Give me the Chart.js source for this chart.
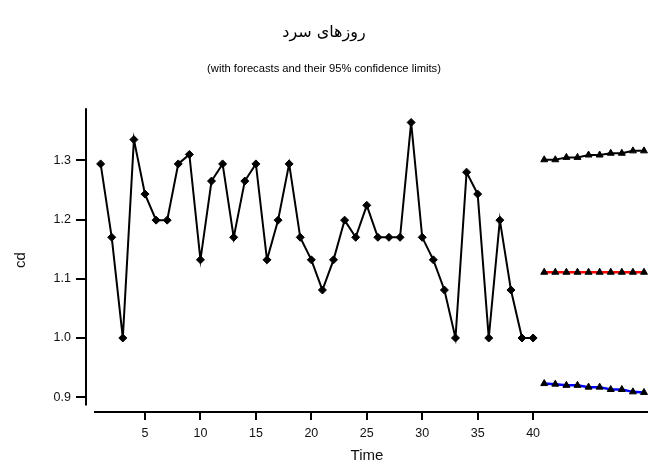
<!DOCTYPE html>
<html>
<head>
<meta charset="utf-8">
<script src="https://cdn.jsdelivr.net/npm/chart.js@4/dist/chart.umd.min.js"></script>
<style>
  html, body { margin: 0; padding: 0; background: #fff; }
</style>
</head>
<body>
<canvas id="chart" width="648" height="462"></canvas>
<script>
// ---- data ----
const chartTitle    = 'روزهای سرد';
const chartSubtitle = '(with forecasts and their 95% confidence limits)';

const obsTime  = [1,2,3,4,5,6,7,8,9,10,11,12,13,14,15,16,17,18,19,20,
                  21,22,23,24,25,26,27,28,29,30,31,32,33,34,35,36,37,38,39,40];
const observed = [1.294,1.170,1.000,1.335,1.243,1.199,1.199,1.294,1.310,1.132,
                  1.265,1.294,1.170,1.265,1.294,1.132,1.199,1.294,1.170,1.132,
                  1.081,1.132,1.199,1.170,1.224,1.170,1.170,1.170,1.364,1.170,
                  1.132,1.081,1.000,1.280,1.243,1.000,1.199,1.081,1.000,1.000];

const fcTime   = [41,42,43,44,45,46,47,48,49,50];
const fcUpper  = [1.301,1.301,1.305,1.305,1.309,1.309,1.312,1.312,1.316,1.316];
const fcMid    = [1.111,1.111,1.111,1.111,1.111,1.111,1.111,1.111,1.111,1.111];
const fcLower  = [0.923,0.922,0.920,0.920,0.917,0.917,0.913,0.913,0.909,0.908];

const xTicks = [5,10,15,20,25,30,35,40];
const yTicks = [0.9,1.0,1.1,1.2,1.3];

// axis extents
const xMin = -0.32, xMax = 50.36, xLineStart = 0.4;
const yMin = 0.875, yMax = 1.388, yLineEnd = 0.886;

const pts = (xs, ys) => xs.map((x, i) => ({ x, y: ys[i] }));
const sans = 'Liberation Sans, Arial, sans-serif';
const tickFont  = { family: sans, size: 12.5 };
const titleFont = { family: sans, size: 15 };

// offset axis lines (SAS-like)
const axisLines = {
  id: 'axisLines',
  afterDraw(chart) {
    const { ctx, chartArea: a, scales: { x, y } } = chart;
    ctx.save();
    ctx.strokeStyle = '#000';
    ctx.lineWidth = 2;
    ctx.beginPath();
    ctx.moveTo(a.left, a.top);
    ctx.lineTo(a.left, y.getPixelForValue(yLineEnd));
    ctx.moveTo(x.getPixelForValue(xLineStart), a.bottom);
    ctx.lineTo(a.right, a.bottom);
    ctx.stroke();
    ctx.restore();
  }
};

const marker = (style) => ({
  pointStyle: style, pointRadius: 4, pointBorderWidth: 1,
  pointBackgroundColor: '#000', pointBorderColor: '#000'
});

new Chart(document.getElementById('chart'), {
  type: 'line',
  data: {
    datasets: [
      { label: 'cd', data: pts(obsTime, observed), borderColor: '#000', borderWidth: 2, ...marker('rectRot') },
      { label: 'upper', data: pts(fcTime, fcUpper), borderColor: '#000', borderWidth: 2, ...marker('triangle') },
      { label: 'forecast', data: pts(fcTime, fcMid), borderColor: '#ff0000', borderWidth: 2.5, ...marker('triangle') },
      { label: 'lower', data: pts(fcTime, fcLower), borderColor: '#0000ff', borderWidth: 2.5, ...marker('triangle') },
    ]
  },
  options: {
    responsive: false,
    animation: false,
    layout: { autoPadding: false, padding: 0 },
    plugins: {
      legend: { display: false },
      tooltip: { enabled: false },
      title: {
        display: true, text: chartTitle, color: '#000',
        font: { family: 'DejaVu Sans, sans-serif', size: 16, weight: 'normal' },
        padding: { top: 23, bottom: 0 }
      },
      subtitle: {
        display: true, text: chartSubtitle, color: '#000',
        font: { family: sans, size: 11.2 },
        padding: { top: 20, bottom: 32.6 }
      }
    },
    scales: {
      x: {
        type: 'linear', min: xMin, max: xMax,
        afterBuildTicks: s => { s.ticks = xTicks.map(v => ({ value: v })); },
        afterFit: s => { s.height = 50; },
        border: { display: false },
        grid: { drawOnChartArea: false, drawTicks: true, tickLength: 8, color: '#000', lineWidth: 2 },
        ticks: { color: '#111', font: tickFont, padding: 6, maxRotation: 0 },
        title: { display: true, text: 'Time', color: '#111', font: titleFont, padding: { top: 0, bottom: -3 } }
      },
      y: {
        type: 'linear', min: yMin, max: yMax,
        afterBuildTicks: s => { s.ticks = yTicks.map(v => ({ value: v })); },
        afterFit: s => { s.width = 86; },
        border: { display: false },
        grid: { drawOnChartArea: false, drawTicks: true, tickLength: 10, color: '#000', lineWidth: 2 },
        ticks: { color: '#111', font: tickFont, padding: 5, callback: v => v.toFixed(1) },
        title: { display: true, text: 'cd', color: '#111', font: titleFont, padding: { top: 12, bottom: 0 } }
      }
    }
  },
  plugins: [axisLines]
});
</script>
</body>
</html>
